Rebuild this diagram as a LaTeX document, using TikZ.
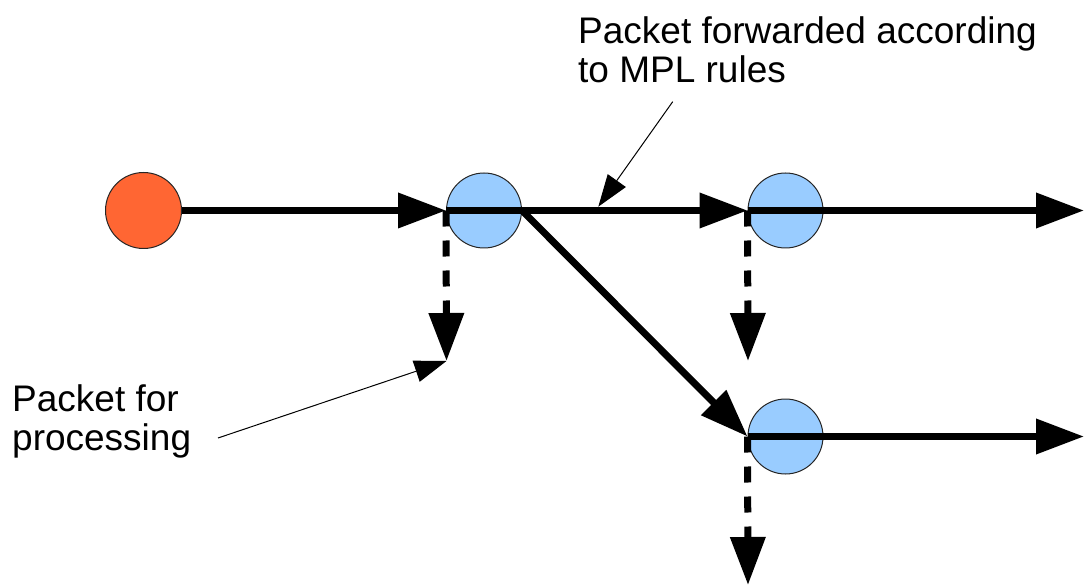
\documentclass[tikz,border=0pt]{standalone}
\usepackage{fontspec}
\setmainfont{Liberation Sans}
\usetikzlibrary{arrows.meta}
\definecolor{nodeblue}{HTML}{99CCFF}
\definecolor{srcorange}{HTML}{FF6633}
\begin{document}
\begin{tikzpicture}[x=1pt,y=-1pt,
  router/.style={circle,draw=black!85,line width=1pt,inner sep=0pt,minimum size=75pt},
  flow/.style={line width=7pt,-{Triangle[length=48pt,width=34pt]}},
  tapline/.style={flow,dash pattern=on 16pt off 14pt},
  pointer/.style={line width=1pt,-{Triangle[length=32pt,width=22pt]}},
  notetext/.style={font=\fontsize{37}{39}\selectfont,align=left,inner sep=0pt}]
\useasboundingbox (0,0) rectangle (1084,585);

% source and forwarding nodes
\node[router,fill=srcorange,minimum size=76pt] (src) at (143.5,210.5) {};
\node[router,fill=nodeblue] (r1) at (484,210.5) {};
\node[router,fill=nodeblue] (r2) at (785.5,210.5) {};
\node[router,fill=nodeblue] (r3) at (785.5,436.5) {};

% free ends of the flows
\coordinate (e1) at (1084,210.5);
\coordinate (e3) at (1084,436.5);
\coordinate (d1) at (446.5,361);
\coordinate (d2) at (748,361);
\coordinate (d3) at (748,585);

% forwarded packets
\draw[flow] (src.east) -- (r1.west);
\draw[flow] (r1.west) -- (r2.west);
\draw[flow] (r2.west) -- (e1);
\draw[flow] (r1.east) -- (r3.west);
\draw[flow] (r3.west) -- (e3);

% packets handed up for processing
\draw[tapline] (r1.west) -- (d1);
\draw[tapline] (r2.west) -- (d2);
\draw[tapline] (r3.west) -- (d3);

% annotations (base anchor sits on the last line)
\node[notetext,anchor=base west] (fwd) at (578,83) {Packet forwarded according\\to MPL rules};
\node[notetext,anchor=base west] (proc) at (12,450) {Packet for\\processing};
\coordinate (c1) at (672.7,101.7);
\coordinate (t1) at (598.3,206.7);
\coordinate (c2) at (218,438);
\draw[pointer] (c1) -- (t1);
\draw[pointer] (c2) -- (d1);
\end{tikzpicture}
\end{document}
